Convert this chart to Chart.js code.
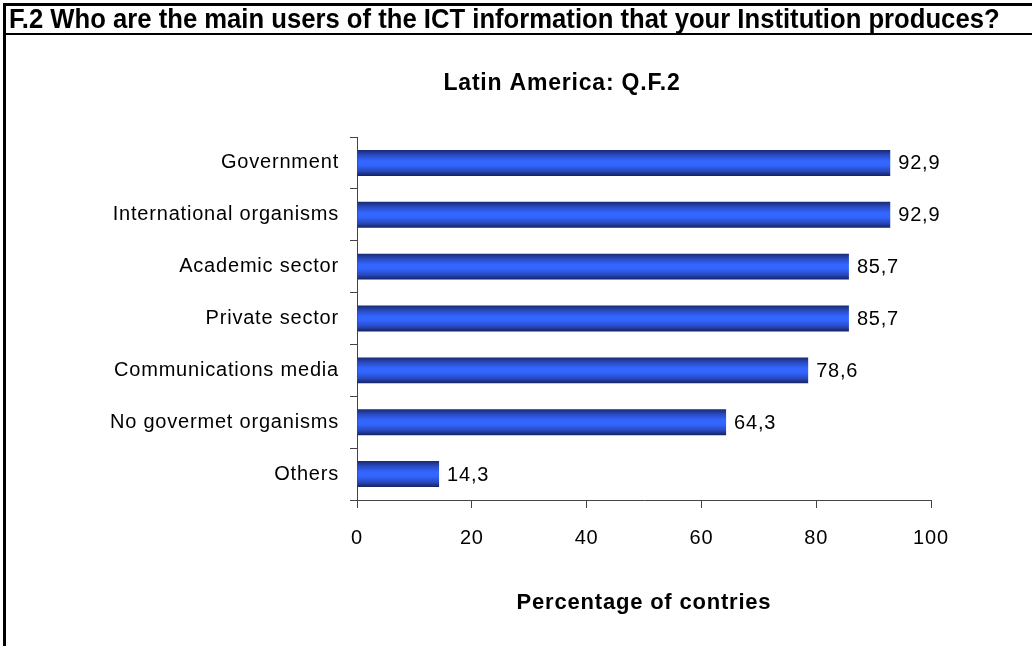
<!DOCTYPE html>
<html>
<head>
<meta charset="utf-8">
<script src="https://cdn.jsdelivr.net/npm/chart.js@4/dist/chart.umd.min.js"></script>
<style>
  html, body { margin: 0; padding: 0; background: #fff; }
  body { width: 1032px; height: 646px; position: relative; overflow: hidden; }
  #chart { position: absolute; left: 0; top: 0; }
  .rule { position: absolute; background: #000; }
  #heading {
    position: absolute; left: 9px; top: 5px; height: 28px; line-height: 28px;
    font-family: 'Liberation Sans Narrow', 'Arial Narrow', 'Liberation Sans', sans-serif;
    font-weight: bold; font-size: 27px; color: #000; white-space: nowrap;
    transform-origin: 0 50%;
  }
</style>
</head>
<body>
<canvas id="chart" width="1032" height="646"></canvas>
<div class="rule" style="left:3px;top:3px;width:1029px;height:2.5px"></div>
<div class="rule" style="left:3px;top:3px;width:2.5px;height:643px"></div>
<div class="rule" style="left:3px;top:33px;width:1029px;height:2px"></div>
<div id="heading">F.2 Who are the main users of the ICT information that your Institution produces?</div>
<script>
// Survey answers: share of countries naming each user group
const categories = [
  'Government',
  'International organisms',
  'Academic sector',
  'Private sector',
  'Communications media',
  'No govermet organisms',
  'Others'
];
const percentages = [92.9, 92.9, 85.7, 85.7, 78.6, 64.3, 14.3];
const xTicks = [0, 20, 40, 60, 80, 100];
const chartTitle = 'Latin America: Q.F.2';
const xTitle = 'Percentage of contries';

// Stretch the heading to the full header width
const heading = document.getElementById('heading');
heading.style.transform = 'scaleX(' + (991 / heading.scrollWidth) + ')';

const BASE_FONT = "'Liberation Sans', Arial, sans-serif";
const SPACING = '0.8px';

// Wide text tracking for every label drawn on the canvas
const trackingPlugin = {
  id: 'tracking',
  beforeUpdate(chart) { chart.ctx.letterSpacing = SPACING; },
  beforeLayout(chart) { chart.ctx.letterSpacing = SPACING; },
  beforeDraw(chart) { chart.ctx.letterSpacing = SPACING; }
};

// Chart heading, centred over the plot and its category labels
const headingTitle = {
  id: 'headingTitle',
  afterDraw(chart) {
    const ctx = chart.ctx;
    ctx.save();
    ctx.letterSpacing = SPACING;
    ctx.font = 'bold 23px ' + BASE_FONT;
    ctx.fillStyle = '#000';
    ctx.textAlign = 'center';
    ctx.textBaseline = 'middle';
    ctx.fillText(chartTitle, 562, 84);
    ctx.restore();
  }
};

// Value printed at the end of every bar
const valueLabels = {
  id: 'valueLabels',
  afterDatasetsDraw(chart) {
    const ctx = chart.ctx;
    const meta = chart.getDatasetMeta(0);
    ctx.save();
    ctx.letterSpacing = SPACING;
    ctx.font = '20px ' + BASE_FONT;
    ctx.fillStyle = '#000';
    ctx.textAlign = 'left';
    ctx.textBaseline = 'middle';
    meta.data.forEach((bar, i) => {
      const v = chart.data.datasets[0].data[i];
      ctx.fillText(v.toFixed(1).replace('.', ','), bar.x + 8, bar.y + 1);
    });
    ctx.restore();
  }
};

// Cylinder-like shading across each bar
function barFill(context) {
  const chart = context.chart;
  const y = chart.scales.y;
  if (!y || context.dataIndex === undefined) return '#3366ff';
  const c = y.getPixelForValue(context.dataIndex);
  const step = Math.abs(y.getPixelForValue(1) - y.getPixelForValue(0));
  if (!isFinite(c) || !isFinite(step) || step === 0) return '#3366ff';
  const h = step * 0.25;
  const g = chart.ctx.createLinearGradient(0, c - h, 0, c + h);
  g.addColorStop(0, '#17296e');
  g.addColorStop(0.18, '#2848bd');
  g.addColorStop(0.42, '#3366ff');
  g.addColorStop(0.58, '#3366ff');
  g.addColorStop(0.82, '#2848bd');
  g.addColorStop(1, '#15235f');
  return g;
}

new Chart(document.getElementById('chart'), {
  type: 'bar',
  data: {
    labels: categories,
    datasets: [{
      data: percentages,
      backgroundColor: barFill,
      borderWidth: 0,
      barPercentage: 0.5,
      categoryPercentage: 1.0
    }]
  },
  plugins: [trackingPlugin, valueLabels, headingTitle],
  options: {
    indexAxis: 'y',
    responsive: false,
    animation: false,
    layout: { padding: { left: 0, right: 101, top: 137, bottom: 0 } },
    plugins: {
      legend: { display: false },
      tooltip: { enabled: false },
      title: { display: false }
    },
    scales: {
      x: {
        min: 0,
        max: 100,
        afterBuildTicks(scale) { scale.ticks = xTicks.map(v => ({ value: v })); },
        afterFit(scale) { scale.height = 146; },
        grid: {
          drawOnChartArea: false,
          drawTicks: true,
          tickLength: 8,
          color: '#444',
          lineWidth: 1
        },
        border: { display: true, color: '#444', width: 1 },
        ticks: {
          color: '#000',
          padding: 18,
          font: { family: BASE_FONT, size: 20 }
        },
        title: {
          display: true,
          text: xTitle,
          color: '#000',
          font: { family: BASE_FONT, size: 22, weight: 'bold', lineHeight: 1.2 },
          padding: { top: 0, bottom: 29.8 }
        }
      },
      y: {
        afterFit(scale) { scale.width = 357; },
        grid: {
          drawOnChartArea: false,
          drawTicks: true,
          tickLength: 7,
          offset: true,
          color: '#444',
          lineWidth: 1
        },
        border: { display: true, color: '#444', width: 1 },
        ticks: {
          color: '#000',
          padding: 11,
          font: { family: BASE_FONT, size: 20 }
        }
      }
    }
  }
});
</script>
</body>
</html>
